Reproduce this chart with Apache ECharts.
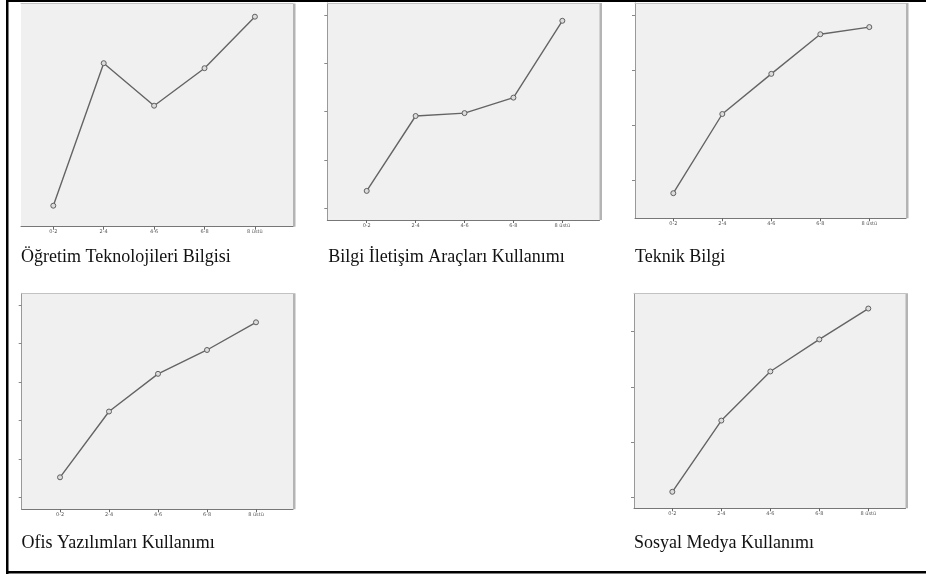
<!DOCTYPE html>
<html><head><meta charset="utf-8">
<script src="https://cdn.jsdelivr.net/npm/echarts@6/dist/echarts.min.js"></script>
<style>html,body{margin:0;padding:0;background:#fff;}#c{width:926px;height:574px;}</style>
</head><body><div id="c"></div>
<script>
// ---- data ----
const categories = ['0-2', '2-4', '4-6', '6-8', '8 üstü'];
const captions = ['Öğretim Teknolojileri Bilgisi', 'Bilgi İletişim Araçları Kullanımı', 'Teknik Bilgi', 'Ofis Yazılımları Kullanımı', 'Sosyal Medya Kullanımı'];
const ogretimTeknolojileri = [0.42, 3.27, 2.42, 3.17, 4.20];
const bilgiIletisim = [1.36, 2.91, 2.97, 3.29, 4.88];
const teknikBilgi = [0.76, 2.20, 2.93, 3.65, 3.78];
const ofisYazilim = [1.52, 3.23, 4.21, 4.83, 5.55];
const sosyalMedya = [1.10, 2.39, 3.28, 3.86, 4.42];
const yTicks1 = [];
const yTicks2 = [1, 2, 3, 4, 5];
const yTicks3 = [1, 2, 3, 4];
const yTicks4 = [1, 2, 3, 4, 5, 6];
const yTicks5 = [1, 2, 3, 4];

// ---- layout ----
const panels = [
  {values: ogretimTeknolojileri, yTicks: yTicks1, left: 21, top: 3.5, width: 272, height: 223.2, xMin: -0.641, xMax: 4.756, yMin: 0, yMax: 4.464, showY: false, capX: 21, capY: 257.5},
  {values: bilgiIletisim, yTicks: yTicks2, left: 327.3, top: 3, width: 272.2, height: 217, xMin: -0.806, xMax: 4.76, yMin: 0.758, yMax: 5.248, showY: true, capX: 328.3, capY: 257.5},
  {values: teknikBilgi, yTicks: yTicks3, left: 635, top: 3, width: 271, height: 215.3, xMin: -0.782, xMax: 4.749, yMin: 0.304, yMax: 4.218, showY: true, capX: 635, capY: 257.5},
  {values: ofisYazilim, yTicks: yTicks4, left: 21.7, top: 293.3, width: 271.3, height: 216, xMin: -0.782, xMax: 4.755, yMin: 0.688, yMax: 6.304, showY: true, capX: 21.5, capY: 543.5},
  {values: sosyalMedya, yTicks: yTicks5, left: 634, top: 293.3, width: 271.5, height: 215, xMin: -0.782, xMax: 4.759, yMin: 0.801, yMax: 4.696, showY: true, capX: 634, capY: 543.5}
];

const chart = echarts.init(document.getElementById('c'), null, {renderer: 'canvas'});
const idx = categories.map((_, i) => i);

const bottomAxes = panels.map((p, i) => ({
  type: 'value', gridIndex: i, min: p.xMin, max: p.xMax, position: 'bottom',
  splitLine: {show: false},
  axisLine: {show: true, onZero: false, lineStyle: {color: '#777', width: 1}},
  axisTick: {show: true, length: 3, customValues: idx, lineStyle: {color: '#666'}},
  axisLabel: {show: true, customValues: idx, formatter: v => categories[Math.round(v)] || '', fontSize: 5, color: '#555', margin: 3, fontFamily: 'DejaVu Sans'}
}));
const topAxes = panels.map((p, i) => ({
  type: 'value', gridIndex: i, min: p.xMin, max: p.xMax, position: 'top',
  splitLine: {show: false},
  axisLine: {show: true, onZero: false, lineStyle: {color: '#c2c2c2', width: 1}},
  axisTick: {show: false}, axisLabel: {show: false}
}));

const option = {
  animation: false,
  backgroundColor: '#fff',
  grid: panels.map(p => ({
    left: p.left, top: p.top, width: p.width, height: p.height,
    show: true, backgroundColor: '#f0f0f0', borderWidth: 0,
    shadowColor: '#b4b4b4', shadowBlur: 0, shadowOffsetX: 2.5, shadowOffsetY: 0
  })),
  xAxis: bottomAxes.concat(topAxes),
  yAxis: panels.map((p, i) => ({
    type: 'value', gridIndex: i, min: p.yMin, max: p.yMax, position: 'left',
    splitLine: {show: false},
    axisLine: {show: p.showY, onZero: false, lineStyle: {color: '#999', width: 1}},
    axisTick: {show: p.showY, length: 3, customValues: p.yTicks, lineStyle: {color: '#888'}},
    axisLabel: {show: false}
  })),
  series: panels.map((p, i) => ({
    type: 'line', xAxisIndex: i, yAxisIndex: i,
    data: p.values.map((v, j) => [j, v]),
    symbol: 'circle', symbolSize: 5,
    lineStyle: {color: '#646464', width: 1.4},
    itemStyle: {color: '#dcdcdc', borderColor: '#606060', borderWidth: 1}
  })),
  graphic: [
    {type: 'rect', shape: {x: 6, y: 0, width: 2.5, height: 574}, style: {fill: '#000'}},
    {type: 'rect', shape: {x: 6, y: 0, width: 920, height: 2}, style: {fill: '#000'}},
    {type: 'rect', shape: {x: 6, y: 571, width: 920, height: 2.5}, style: {fill: '#000'}}
  ].concat(panels.map((p, i) => ({
    type: 'text', x: p.capX, y: p.capY,
    style: {text: captions[i], fill: '#111', font: '18px "Liberation Serif", "Times New Roman", serif', textVerticalAlign: 'middle', textAlign: 'left'}
  })))
};
chart.setOption(option);
</script></body></html>
